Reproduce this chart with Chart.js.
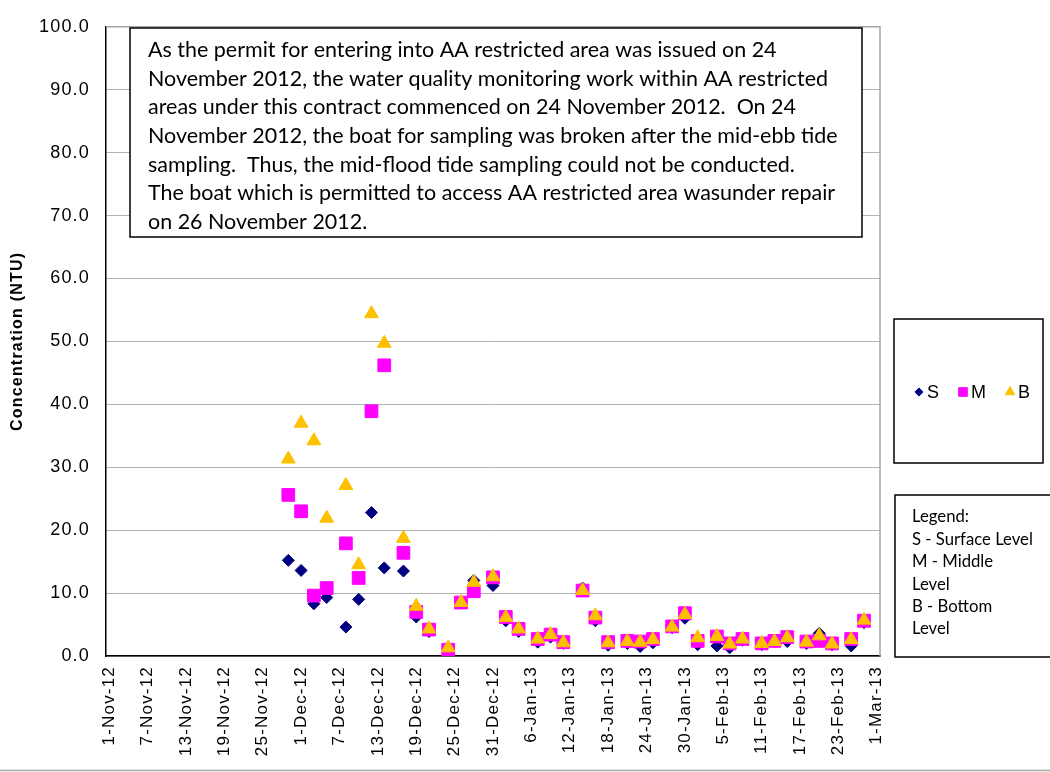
<!DOCTYPE html>
<html>
<head>
<meta charset="utf-8">
<script src="https://cdn.jsdelivr.net/npm/chart.js@4"></script>
<style>
  body { margin: 0; background: #fff; }
  canvas { display: block; }
</style>
</head>
<body>
<canvas id="myChart" width="1050" height="772"></canvas>
<script>
// sampling dates and turbidity (NTU) at the three depths
let sampleDates = ['2012-11-29', '2012-12-01', '2012-12-03', '2012-12-05', '2012-12-08', '2012-12-10',
  '2012-12-12', '2012-12-14', '2012-12-17', '2012-12-19', '2012-12-21', '2012-12-24', '2012-12-26',
  '2012-12-28', '2012-12-31', '2013-01-02', '2013-01-04', '2013-01-07', '2013-01-09', '2013-01-11',
  '2013-01-14', '2013-01-16', '2013-01-18', '2013-01-21', '2013-01-23', '2013-01-25', '2013-01-28',
  '2013-01-30', '2013-02-01', '2013-02-04', '2013-02-06', '2013-02-08', '2013-02-11', '2013-02-13',
  '2013-02-15', '2013-02-18', '2013-02-20', '2013-02-22', '2013-02-25', '2013-02-27'];
let surface = [15.2, 13.6, 8.3, 9.3, 4.6, 9.0, 22.8, 14.0, 13.5, 6.2, 3.9, 1.0, 8.4,
  12.0, 11.2, 5.6, 3.9, 2.2, 3.0, 2.0, 10.8, 5.6, 1.7, 2.0, 1.5, 2.1, 4.5,
  6.0, 1.8, 1.6, 1.3, 2.5, 1.8, 2.3, 2.3, 2.0, 3.6, 1.8, 1.6, 5.3];
let middle = [25.6, 23.0, 9.6, 10.8, 17.9, 12.4, 38.9, 46.2, 16.4, 7.0, 4.2, 1.0, 8.5,
  10.3, 12.5, 6.2, 4.3, 2.7, 3.4, 2.2, 10.4, 6.1, 2.2, 2.4, 2.3, 2.7, 4.7,
  6.8, 2.4, 3.1, 2.0, 2.7, 2.0, 2.4, 3.0, 2.3, 2.4, 2.0, 2.7, 5.6];
let bottom = [31.3, 37.0, 34.2, 21.9, 27.1, 14.5, 54.4, 49.7, 18.7, 7.9, 4.3, 1.3, 8.5,
  11.7, 12.6, 6.1, 4.3, 2.7, 3.4, 2.1, 10.4, 6.4, 2.1, 2.3, 2.2, 2.6, 4.6,
  6.6, 2.9, 3.1, 1.9, 2.7, 2.0, 2.3, 2.9, 2.2, 3.2, 1.9, 2.6, 5.7];

let axisStart = Date.UTC(2012, 10, 1);
let tickDays = [0, 6, 12, 18, 24, 30, 36, 42, 48, 54, 60, 66, 72, 78, 84, 90, 96, 102, 108, 114, 120];
let months = ['Jan', 'Feb', 'Mar', 'Apr', 'May', 'Jun', 'Jul', 'Aug', 'Sep', 'Oct', 'Nov', 'Dec'];

let noteLines = [
  'As the permit for entering into AA restricted area was issued on 24',
  'November 2012, the water quality monitoring work within AA restricted',
  'areas under this contract commenced on 24 November 2012.  On 24',
  'November 2012, the boat for sampling was broken after the mid-ebb tide',
  'sampling.  Thus, the mid-flood tide sampling could not be conducted.',
  'The boat which is permitted to access AA restricted area wasunder repair',
  'on 26 November 2012.'
];
let keyLines = ['Legend:', 'S - Surface Level', 'M - Middle', 'Level', 'B - Bottom', 'Level'];

function dayOf(s) {
  let p = s.split('-');
  return (Date.UTC(+p[0], +p[1] - 1, +p[2]) - axisStart) / 864e5;
}
function dateLabel(v) {
  let d = new Date(axisStart + v * 864e5);
  return d.getUTCDate() + '-' + months[d.getUTCMonth()] + '-' + String(d.getUTCFullYear() % 100).padStart(2, '0');
}
function pts(vals) {
  return vals.map((v, i) => ({ x: dayOf(sampleDates[i]), y: v }));
}

let series = [
  { label: 'S', data: surface, color: '#000080', style: 'rectRot', r: 6, order: 3 },
  { label: 'M', data: middle, color: '#FF00FF', style: 'rect', r: 9, order: 2 },
  { label: 'B', data: bottom, color: '#FFC000', style: 'triangle', r: 8, order: 1 }
];

// plot frame (top/right gray), note box and the two legend boxes
let extras = {
  id: 'extras',
  beforeDraw(chart) {
    // excel axis text is spaced out a little
    chart.ctx.letterSpacing = '1.2px';
  },
  beforeDatasetsDraw(chart) {
    let c = chart.ctx, a = chart.chartArea;
    c.letterSpacing = '0px';
    c.save();
    c.strokeStyle = '#a6a6a6';
    c.lineWidth = 1.5;
    c.beginPath();
    c.moveTo(a.left, a.top);
    c.lineTo(a.right, a.top);
    c.lineTo(a.right, a.bottom);
    c.stroke();
    c.restore();
  },
  afterDraw(chart) {
    let c = chart.ctx;
    c.save();
    // note box
    c.fillStyle = '#fff';
    c.fillRect(130, 28, 732, 209);
    c.strokeStyle = '#000';
    c.lineWidth = 1.5;
    c.strokeRect(130, 28, 732, 209);
    c.fillStyle = '#000';
    c.textBaseline = 'middle';
    c.font = '20px Lato';
    let sz = 20 * 680 / c.measureText(noteLines[1]).width;
    c.font = sz.toFixed(2) + 'px Lato';
    noteLines.forEach((t, i) => c.fillText(t, 148, 50 + i * 28.7));

    // series legend
    c.strokeRect(894, 319, 149, 144);
    c.font = '18px "Liberation Sans", Arial';
    let lx = [919, 963, 1010];
    series.forEach((s, i) => {
      c.fillStyle = s.color;
      c.strokeStyle = s.color;
      c.lineWidth = 1;
      Chart.helpers.drawPoint(c, { pointStyle: s.style, radius: s.r * 0.68, rotation: 0, borderWidth: 1 }, lx[i], 392);
      c.fillStyle = '#000';
      c.fillText(s.label, lx[i] + 8, 393);
    });

    // text legend
    c.strokeStyle = '#000';
    c.lineWidth = 1.5;
    c.strokeRect(895, 495, 170, 162);
    c.font = '16px Lato';
    let ks = 16 * 121 / c.measureText(keyLines[1]).width;
    c.font = ks.toFixed(2) + 'px Lato';
    keyLines.forEach((t, i) => c.fillText(t, 912, 517 + i * 22.4));

    // outer frame line at the bottom
    c.strokeStyle = '#a6a6a6';
    c.beginPath();
    c.moveTo(0, 770.5);
    c.lineTo(1050, 770.5);
    c.stroke();
    c.restore();
  }
};

let ctx = document.getElementById('myChart').getContext('2d');
let myChart = new Chart(ctx, {
  type: 'scatter',
  data: {
    datasets: series.map(s => ({
      label: s.label,
      data: pts(s.data),
      order: s.order,
      pointStyle: s.style,
      pointRadius: s.r,
      pointHoverRadius: s.r,
      backgroundColor: s.color,
      borderColor: s.color,
      borderWidth: 1,
      showLine: false
    }))
  },
  options: {
    responsive: false,
    animation: false,
    devicePixelRatio: 1,
    layout: { padding: { left: 0, right: 170, top: 13, bottom: 0 } },
    plugins: {
      legend: { display: false },
      tooltip: { enabled: false }
    },
    scales: {
      x: {
        type: 'linear',
        min: -0.5,
        max: 120.5,
        afterBuildTicks: (scale) => {
          scale.ticks = tickDays.map(v => ({ value: v }));
        },
        afterFit: (scale) => { scale.height = 116; },
        grid: { display: false, drawTicks: false },
        border: { color: '#000', width: 1.5 },
        ticks: {
          autoSkip: false,
          minRotation: 90,
          maxRotation: 90,
          padding: 10,
          color: '#000',
          font: { family: '"Liberation Sans", Arial', size: 17 },
          callback: (v) => dateLabel(v)
        }
      },
      y: {
        min: 0,
        max: 100,
        afterFit: (scale) => { scale.width = 106; },
        grid: { color: '#b3b3b3', lineWidth: 1, drawTicks: false },
        border: { color: '#000', width: 1.5 },
        ticks: {
          stepSize: 10,
          padding: 16,
          color: '#000',
          font: { family: '"Liberation Sans", Arial', size: 18 },
          callback: (v) => v.toFixed(1)
        },
        title: {
          display: true,
          text: 'Concentration (NTU)',
          color: '#000',
          padding: { top: 8, bottom: 0 },
          font: { family: '"Liberation Sans", Arial', size: 16, weight: 'bold' }
        }
      }
    }
  },
  plugins: [extras]
});
</script>
</body>
</html>
